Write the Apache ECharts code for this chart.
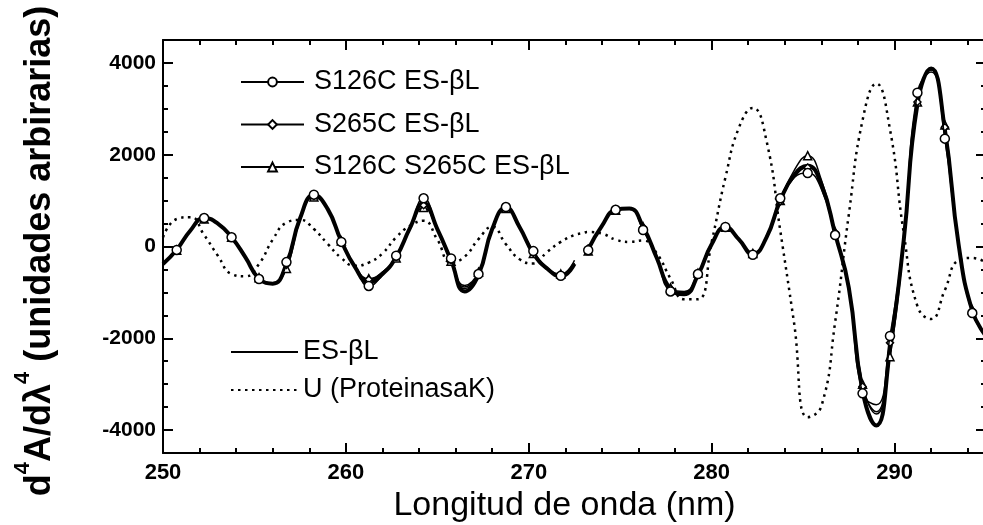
<!DOCTYPE html>
<html>
<head>
<meta charset="utf-8">
<script src="https://cdn.jsdelivr.net/npm/echarts@6/dist/echarts.min.js"></script>
<style>
html,body{margin:0;padding:0;background:#fff;}
#chart{width:983px;height:525px;}
</style>
</head>
<body>
<div id="chart"></div>
<script>
// Wavelength grid (nm); 272.9 marks the break in the mutant/native spectra
const wavelength = [250, 250.75, 251.5, 252.25, 253, 253.75, 254.5, 255.25, 256, 256.75,
  257.5, 258.25, 259, 259.75, 260.5, 261.25, 262, 262.75, 263.5, 264.25,
  265, 265.75, 266.5, 267.25, 268, 268.75, 269.5, 270.25, 271, 271.75,
  272.5, 272.9,
  273.25, 274, 274.75, 275.5, 276.25, 277, 277.75, 278.5, 279.25, 280,
  280.75, 281.5, 282.25, 283, 283.75, 284.5, 285.25, 286, 286.75, 287.5,
  288.25, 289, 289.75, 290.5, 291.25, 292, 292.75, 293.5, 294.25, 295];

const esBL = [-380, -70, 350, 620, 500, 200, -230, -700, -810, -380,
  620, 1120, 820, 120, -450, -780, -600, -230, 400, 950,
  380, -300, -980, -620, 380, 850, 420, -150, -480, -650,
  -380, null,
  -60, 450, 800, 830, 430, -250, -930, -1040, -620, 50,
  425, 150, -170, 200, 1000, 1550, 1760, 1350, 280, -900,
  -3150, -3900, -2250, 130, 3100, 3880, 2550, 50, -1400, -1950];

const s126c = [-380, -75, 350, 620, 500, 200, -230, -710, -800, -340,
  620, 1130, 820, 100, -420, -860, -620, -200, 400, 1050,
  400, -260, -920, -600, 380, 860, 420, -100, -470, -640,
  -380, null,
  -80, 450, 800, 830, 360, -250, -980, -1040, -600, 50,
  425, 140, -180, 200, 1050, 1500, 1600, 1250, 250, -950,
  -3200, -3450, -1950, 150, 3350, 3800, 2350, 0, -1450, -1950];

const s265c = [-380, -60, 360, 610, 500, 210, -220, -690, -800, -400,
  600, 1100, 820, 130, -430, -720, -560, -220, 400, 900,
  380, -300, -880, -580, 370, 840, 430, -140, -470, -620,
  -360, null,
  -40, 450, 790, 820, 420, -260, -920, -1000, -600, 60,
  420, 160, -160, 200, 980, 1500, 1720, 1350, 300, -850,
  -3050, -3600, -2100, 150, 3150, 3850, 2600, 80, -1400, -1950];

const s126cS265c = [-380, -80, 340, 600, 500, 200, -220, -680, -790, -480,
  580, 1080, 810, 120, -430, -700, -560, -250, 380, 850,
  360, -320, -850, -560, 360, 830, 420, -150, -460, -600,
  -300, null,
  -100, 440, 790, 820, 430, -240, -900, -980, -580, 80,
  420, 170, -150, 230, 1000, 1650, 1980, 1450, 320, -850,
  -3000, -3650, -2400, 50, 3150, 3850, 2650, 100, -1380, -1950];

const proteinasaK = [200, 600, 640, 250, -200, -600, -650, -380, 150, 520,
  580, 380, 60, -250, -420, -350, -150, 200, 450, 560,
  150, -350, -220, 160, 430, 50, -280, -370, -120, 100,
  250, 290,
  315, 280, 150, 100, 130, -150, -700, -1150, -1150, 100,
  1500, 2600, 3020, 2300, 350, -1650, -3720, -3480, -1650, 700,
  2750, 3550, 2550, 300, -1300, -1580, -950, -300, -250, -350];

const xTickLabels = [250, 260, 270, 280, 290];
const xMinorTicks = [252, 254, 256, 258, 262, 264, 266, 268, 272, 274, 276, 278, 282, 284, 286, 288, 292, 294];
const yTickLabels = [-4000, -2000, 0, 2000, 4000];
const yMinorTicks = [-3500, -3000, -2500, -1500, -1000, -500, 500, 1000, 1500, 2500, 3000, 3500];

const seriesNames = ['S126C ES-βL', 'S265C ES-βL', 'S126C S265C ES-βL', 'ES-βL', 'U (ProteinasaK)'];

function pairs(arr) {
  return wavelength.map((x, i) => [x, arr[i] === null ? '-' : arr[i]]);
}
function markerSize(size) {
  return function (v) {
    const k = Math.round((v[0] - 250) / 0.75);
    return k % 2 === 1 ? size : 0;
  };
}

const chart = echarts.init(document.getElementById('chart'), null, {renderer: 'canvas'});

const XMIN = 250, XMAX = 295, YMIN = -4500, YMAX = 4500;
const narrow = "'Liberation Sans Narrow', 'Arial Narrow', 'Liberation Sans', sans-serif";
const sans = "'Liberation Sans', Arial, sans-serif";

function xAxisDef(pos, major, withLabels) {
  return {
    type: 'value', position: pos, min: XMIN, max: XMAX, gridIndex: 0,
    axisLine: {show: major, onZero: false, lineStyle: {color: '#000', width: 2}},
    axisTick: {show: true, inside: true, length: major ? 10 : 5,
      customValues: major ? xTickLabels : xMinorTicks,
      lineStyle: {color: '#000', width: 2}},
    axisLabel: {show: withLabels, customValues: xTickLabels, color: '#000',
      fontFamily: narrow, fontWeight: 'bold', fontSize: 22, margin: 9,
      formatter: v => String(v)},
    splitLine: {show: false}
  };
}
function yAxisDef(pos, major, withLabels) {
  return {
    type: 'value', position: pos, min: YMIN, max: YMAX, gridIndex: 0,
    axisLine: {show: major, onZero: false, lineStyle: {color: '#000', width: 2}},
    axisTick: {show: true, inside: true, length: major ? 10 : 5,
      customValues: major ? yTickLabels : yMinorTicks,
      lineStyle: {color: '#000', width: 2}},
    axisLabel: {show: withLabels, customValues: yTickLabels, color: '#000',
      fontFamily: sans, fontWeight: 'bold', fontSize: 21, margin: 7,
      formatter: v => String(v)},
    splitLine: {show: false}
  };
}

const xMain = xAxisDef('bottom', true, true);
xMain.name = 'Longitud de onda (nm)';
xMain.nameLocation = 'middle';
xMain.nameGap = 30;
xMain.nameTextStyle = {color: '#000', fontFamily: narrow, fontSize: 34, padding: [0, 20, 0, 0]};

const thin = {color: '#000', width: 1.5};
const markerStyle = {color: '#fff', borderColor: '#000', borderWidth: 1.5};

const option = {
  animation: false,
  backgroundColor: '#fff',
  grid: {left: 163, top: 40, width: 823, height: 413, outerBoundsMode: 'none', containLabel: false},
  xAxis: [xMain, xAxisDef('bottom', false, false), xAxisDef('top', true, false), xAxisDef('top', false, false)],
  yAxis: [yAxisDef('left', true, true), yAxisDef('left', false, false), yAxisDef('right', true, false), yAxisDef('right', false, false)],
  legend: [
    {data: seriesNames.slice(0, 3), orient: 'vertical', left: 240, top: 67, padding: 0,
     itemWidth: 63, itemHeight: 11, itemGap: 12.5, selectedMode: false,
     textStyle: {color: '#000', fontFamily: sans, fontSize: 27, lineHeight: 30, padding: [0, 0, 0, 5]}},
    {data: seriesNames.slice(3).map(n => ({name: n, itemStyle: {opacity: 0}})),
     orient: 'vertical', left: 230, top: 337, padding: 0,
     itemWidth: 67, itemHeight: 11, itemGap: 8, selectedMode: false,
     textStyle: {color: '#000', fontFamily: sans, fontSize: 27, lineHeight: 30}}
  ],
  graphic: [{
    type: 'text', x: 40, y: 251, rotation: Math.PI / 2, silent: true,
    style: {
      text: '{n|d}{s|4}{n|A/dλ}{s|4}{n| (unidades arbirarias)}',
      align: 'center', verticalAlign: 'middle', textAlign: 'center', textVerticalAlign: 'middle',
      fill: '#000',
      rich: {
        n: {fontFamily: sans, fontWeight: 'bold', fontSize: 36, lineHeight: 56, fill: '#000', color: '#000'},
        s: {fontFamily: sans, fontWeight: 'bold', fontSize: 22, lineHeight: 22, verticalAlign: 'top', fill: '#000', color: '#000'}
      }
    }
  }],
  series: [
    {name: seriesNames[0], type: 'line', data: pairs(s126c), smooth: 0.5, z: 5,
     symbol: 'circle', symbolSize: markerSize(9), showAllSymbol: true,
     lineStyle: thin, itemStyle: markerStyle},
    {name: seriesNames[1], type: 'line', data: pairs(s265c), smooth: 0.5, z: 4,
     symbol: 'diamond', symbolSize: markerSize(7), showAllSymbol: true,
     lineStyle: thin, itemStyle: markerStyle},
    {name: seriesNames[2], type: 'line', data: pairs(s126cS265c), smooth: 0.5, z: 3,
     symbol: 'triangle', symbolSize: markerSize(8), showAllSymbol: true,
     lineStyle: thin, itemStyle: markerStyle},
    {name: seriesNames[3], type: 'line', data: pairs(esBL), smooth: 0.5, z: 2,
     symbol: 'none', lineStyle: {color: '#000', width: 4}, itemStyle: {color: '#000', opacity: 0}},
    {name: seriesNames[4], type: 'line', data: pairs(proteinasaK), smooth: 0.5, z: 1,
     symbol: 'none', lineStyle: {color: '#000', width: 2.5, type: [2.5, 4.5]}, itemStyle: {color: '#000', opacity: 0}}
  ]
};
chart.setOption(option);
</script>
</body>
</html>
